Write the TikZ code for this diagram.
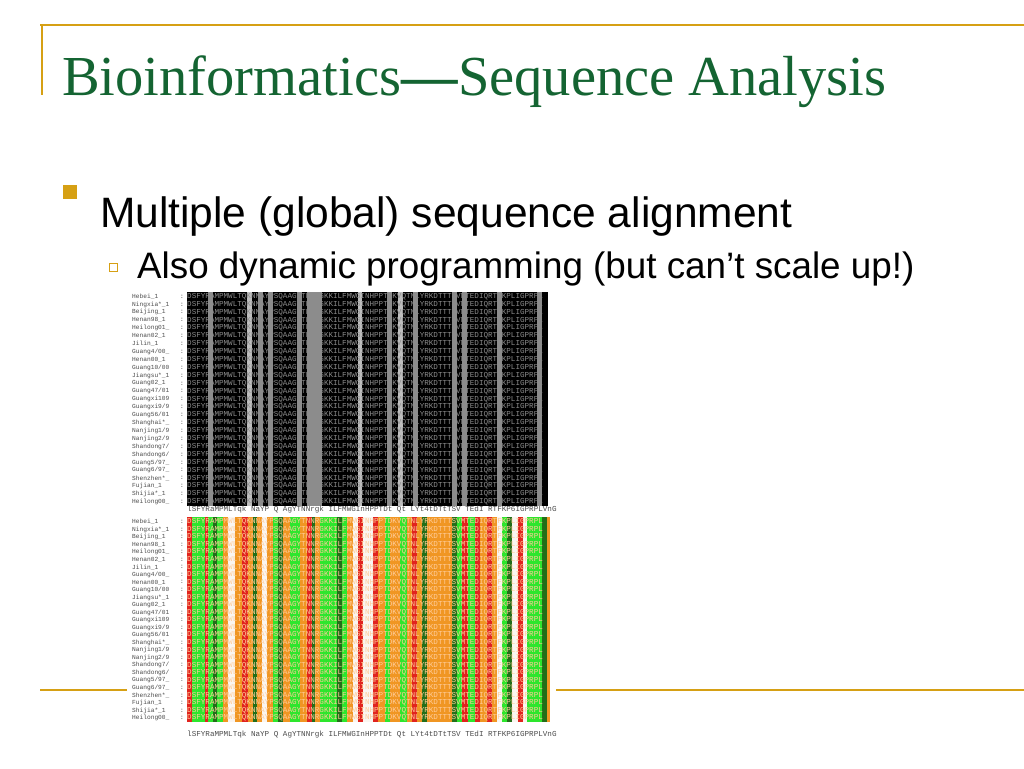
\documentclass[tikz,border=0pt]{standalone}
\usepackage{fontspec}
\setmainfont{Liberation Serif}
\setsansfont{Liberation Sans}
\newfontfamily\monof{Liberation Mono}
\definecolor{gold}{RGB}{214,160,20}
\definecolor{ttl}{RGB}{20,100,50}
\definecolor{cr}{RGB}{225,35,30}
\definecolor{co}{RGB}{240,150,35}
\definecolor{cg}{RGB}{45,230,45}
\definecolor{cd}{RGB}{35,110,25}
\definecolor{cw}{RGB}{250,245,240}
\definecolor{cgr}{RGB}{140,140,140}
\definecolor{clg}{RGB}{190,190,190}
\tikzset{goldline/.style={gold,line width=1.6pt},
 nm/.style={anchor=west,inner sep=0,font=\monof\fontsize{6.2}{6.2}\selectfont,text=black!70},
 sq/.style={anchor=west,inner sep=0,font=\monof\fontsize{7.6}{7.6}\selectfont}}
\begin{document}
\begin{tikzpicture}[x=1pt,y=-1pt]
\useasboundingbox[fill=white] (0,0) rectangle (1024,768);
\draw[goldline] (40,25) -- (1024,25);
\draw[goldline] (42,25) -- (42,95);
\draw[goldline] (40,690) -- (1024,690);
\node (title) [anchor=base west,inner sep=0,text=ttl,font=\fontsize{56.5}{56.5}\selectfont] at (62,95) {Bioinformatics\textbf{---}Sequence Analysis};
\fill[gold] (63,185) rectangle (77,199);
\node (b1) [anchor=base west,inner sep=0,font=\sffamily\fontsize{42.5}{42.5}\selectfont] at (100,227) {Multiple (global) sequence alignment};
\draw[gold,line width=1pt] (109,263) rectangle (117,271);
\node (b2) [anchor=base west,inner sep=0,font=\sffamily\fontsize{36.8}{36.8}\selectfont] at (137,278) {Also dynamic programming (but can’t scale up!)};
% image backgrounds
\fill[white] (127,288) rectangle (556,742);
% top alignment
\fill[black] (187,292) rectangle (548,506);
\foreach \a/\b/\c in {265/280/cgr,380/395/clg,415/430/cgr,445/460/cgr,530/545/cgr,560/605/cgr,715/725/clg,800/815/cgr,835/850/clg,880/895/cgr,995/1010/cgr,1025/1040/cgr,1130/1145/cgr,1250/1265/cgr}
  \fill[\c] ({120+\a/3},292) rectangle ({120+\b/3},506);
% bottom alignment
\foreach \a/\b/\c in {200/215/cr,215/255/cg,255/265/cr,265/280/cg,280/290/cd,290/310/cg,310/325/co,325/345/cw,345/365/co,365/385/cr,385/400/co,400/410/cd,410/425/co,425/440/cw,440/460/co,460/475/cg,475/490/cd,490/510/co,510/540/cg,540/560/co,560/575/cr,575/585/cd,585/600/co,600/650/cg,650/665/cd,665/680/cg,680/700/co,700/715/cw,715/730/cr,730/760/cw,760/775/cr,775/795/co,795/810/cg,810/840/co,840/860/cg,860/875/co,875/890/cr,890/905/co,905/920/cd,920/995/co,995/1010/cd,1010/1025/cg,1025/1045/cr,1045/1065/cg,1065/1080/cr,1080/1100/co,1100/1115/cr,1115/1130/co,1130/1145/cw,1145/1160/cg,1160/1175/cd,1175/1195/cw,1195/1210/cr,1210/1220/cw,1220/1265/cg,1265/1280/cd,1280/1290/co}
  \fill[\c] ({120+\a/3},517) rectangle ({120+\b/3},722);
\foreach \n [count=\i from 0] in {Hebei\_1,Ningxia*\_1,Beijing\_1,Henan98\_1,Heilong01\_,Henan02\_1,Jilin\_1,Guang4/00\_,Henan00\_1,Guang10/00,Jiangsu*\_1,Guang02\_1,Guang47/01,Guangxi109,Guangxi9/9,Guang56/01,Shanghai*\_,Nanjing1/9,Nanjing2/9,Shandong7/,Shandong6/,Guang5/97\_,Guang6/97\_,Shenzhen*\_,Fujian\_1,Shijia*\_1,Heilong00\_}{
  \node (ta\i) [nm] at (132,{296.5+\i*7.9}) {\n};
  \node (tc\i) [nm] at (180,{296.5+\i*7.9}) {:};
  \node (ts\i) [sq,text=white!55!black] at (187,{296.5+\i*7.9}) {DSFYRAMPMWLTQKNNAYPSQAAGYTNNRGKKILFMWGINHPPTDKVQTNLYRKDTTTSVMTEDIQRTFKPLIGPRPL};
  \node (ba\i) [nm] at (132,{522+\i*7.54}) {\n};
  \node (bc\i) [nm] at (180,{522+\i*7.54}) {:};
  \node (bs\i) [sq,text=white!60!orange] at (187,{522+\i*7.54}) {DSFYRAMPMWLTQKNNAYPSQAAGYTNNRGKKILFMWGINHPPTDKVQTNLYRKDTTTSVMTEDIQRTFKPLIGPRPL};
}
\node (c1) [sq,text=black!70] at (187,510) {lSFYRaMPMLTqk NaYP Q AgYTNNrgk ILFMWGInHPPTDt Qt LYt4tDTtTSV TEdI RTFKP6IGPRPLVnG};
\node (c2) [sq,text=black!70] at (187,735) {lSFYRaMPMLTqk NaYP Q AgYTNNrgk ILFMWGInHPPTDt Qt LYt4tDTtTSV TEdI RTFKP6IGPRPLVnG};
\end{tikzpicture}
\end{document}
